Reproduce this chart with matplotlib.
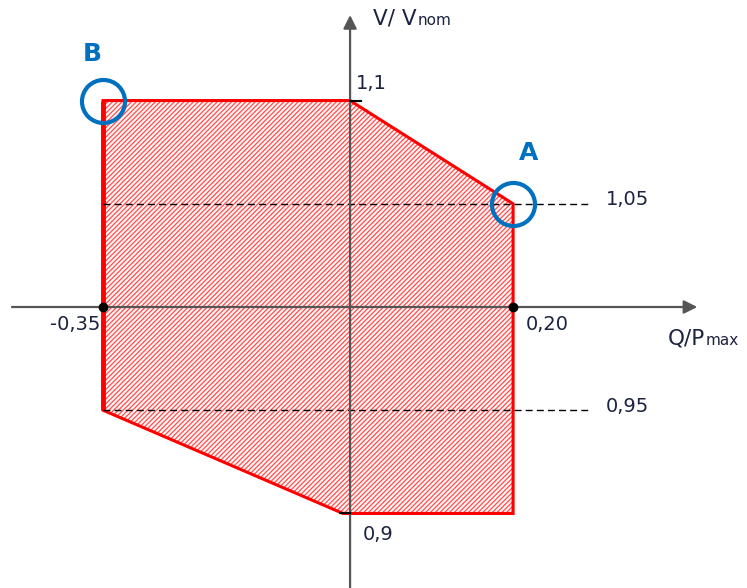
import numpy as np
import matplotlib.pyplot as plt
from matplotlib.patches import Polygon

# operating area, Q/Pmax vs V/Vnom
q_pts = [-0.35, 0.0, 0.20, 0.20, -0.01, -0.35]
v_pts = [1.10, 1.10, 1.05, 0.90, 0.90, 0.95]

v_dashed = [1.05, 0.95]
v_dashed_lbl = ['1,05', '0,95']
q_marks = [-0.35, 0.20]
q_marks_lbl = ['-0,35', '0,20']

pt_A = (0.20, 1.05)
pt_B = (-0.35, 1.10)

TXT = '#1b2340'
BLUE = '#0070C0'
RED = '#FF0000'

# sketch is not to scale: left and right halves stretched differently
def fwd(x):
    x = np.asarray(x, dtype=float)
    return np.where(x < 0, x / 0.35 * 247, x / 0.20 * 163)

def inv(p):
    p = np.asarray(p, dtype=float)
    return np.where(p < 0, p * 0.35 / 247, p * 0.20 / 163)

plt.rcParams['hatch.linewidth'] = 0.9

fig = plt.figure(figsize=(7.47, 5.88), dpi=100)
ax = fig.add_axes([0, 0, 1, 1])
ax.set_xscale('function', functions=(fwd, inv))
ax.set_xlim(-0.496, 0.487)
ax.set_ylim(0.8639, 1.1487)
ax.axis('off')

# hatched area
poly = Polygon(list(zip(q_pts, v_pts)), closed=True, facecolor='#fff4f4',
               edgecolor='#ff5050', hatch='///////', lw=0, zorder=1)
ax.add_patch(poly)
outline = Polygon(list(zip(q_pts, v_pts)), closed=True, facecolor='none',
                  edgecolor=RED, lw=2.2, zorder=2)
ax.add_patch(outline)
ax.plot([q_pts[0], q_pts[-1]], [v_pts[0], v_pts[-1]], color=RED, lw=3.5,
        zorder=2, solid_capstyle='butt')

# axes with arrows
ax.annotate('', xy=(0.426, 1.0), xytext=(-0.479, 1.0),
            arrowprops=dict(arrowstyle='-|>', color='#555555', lw=1.6,
                            mutation_scale=20, shrinkA=0, shrinkB=0), zorder=3)
ax.annotate('', xy=(0.0, 1.1414), xytext=(0.0, 0.8639),
            arrowprops=dict(arrowstyle='-|>', color='#555555', lw=1.6,
                            mutation_scale=20, shrinkA=0, shrinkB=0), zorder=3)

# small ticks at 1,1 and 0,9
ax.plot([0.0, 0.014], [1.10, 1.10], color='black', lw=1.5, zorder=3)
ax.plot([-0.014, 0.0], [0.90, 0.90], color='black', lw=1.5, zorder=3)

# dashed reference levels
for v, lbl in zip(v_dashed, v_dashed_lbl):
    ax.plot([-0.35, 0.294], [v, v], color='black', lw=1, dashes=(5, 3), zorder=2)
    ax.text(0.314, v + 0.002, lbl, color=TXT, fontsize=14, ha='left', va='center')

ax.plot(q_marks, [1.0, 1.0], 'o', color='black', ms=6, zorder=4)
ax.text(q_marks[0] - 0.004, 0.9913, q_marks_lbl[0], color=TXT, fontsize=14,
        ha='right', va='center')
ax.text(q_marks[1] + 0.015, 0.9913, q_marks_lbl[1], color=TXT, fontsize=14,
        ha='left', va='center')

ax.text(0.007, 1.1035, '1,1', color=TXT, fontsize=14, ha='left', va='bottom')
ax.text(0.015, 0.8896, '0,9', color=TXT, fontsize=14, ha='left', va='center')

# axis names
t = ax.text(0.390, 0.9816, 'Q/P', color=TXT, fontsize=15.5, ha='left', va='baseline')
ax.annotate('max', xy=(1, 0), xycoords=t, xytext=(0.5, 1), textcoords='offset points',
            color=TXT, fontsize=11, ha='left', va='bottom')
t = ax.text(0.028, 1.1366, 'V/ V', color=TXT, fontsize=15.5, ha='left', va='baseline')
ax.annotate('nom', xy=(1, 0), xycoords=t, xytext=(0.5, 1), textcoords='offset points',
            color=TXT, fontsize=11, ha='left', va='bottom')

# highlighted corners
for (q, v) in (pt_A, pt_B):
    ax.plot(q, v, 'o', ms=31, mfc='none', mec=BLUE, mew=3, zorder=5)
ax.text(-0.3656, 1.1225, 'B', color=BLUE, fontsize=18, fontweight='bold',
        ha='center', va='center')
ax.text(0.2184, 1.0746, 'A', color=BLUE, fontsize=18, fontweight='bold',
        ha='center', va='center')

fig.savefig('out.png', dpi=100)
